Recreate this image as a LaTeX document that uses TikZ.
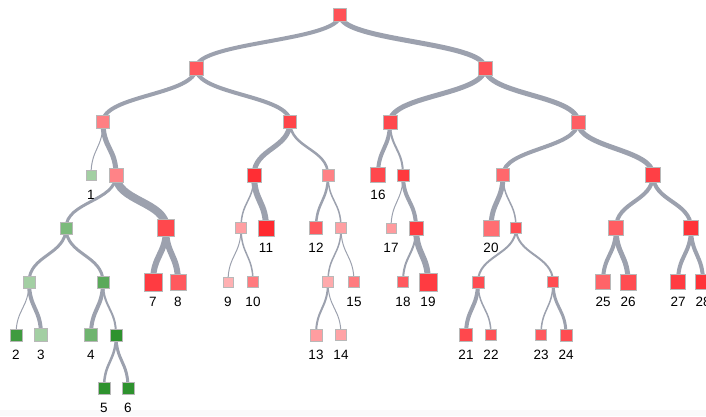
\documentclass[tikz,border=0pt]{standalone}
\usepackage{fontspec}
\setmainfont{Liberation Sans}
\usetikzlibrary{calc}
\definecolor{hot}{HTML}{FF2A30}
\definecolor{leaf}{HTML}{2E922E}
\definecolor{wire}{HTML}{9CA1AE}
\pgfdeclarelayer{background}
\pgfsetlayers{background,main}
\tikzstyle{box}=[draw=black!28,line width=0.6pt,rectangle,inner sep=0pt]
\tikzstyle{tag}=[inner sep=0pt,font=\fontsize{13.5}{16}\selectfont]
\tikzstyle{link}=[draw=wire]

\begin{document}
\begin{tikzpicture}[x=1pt,y=-1pt]
\useasboundingbox (0,0) rectangle (706,416);
\fill[black!2] (0,410) rectangle (706,416);
  % inner nodes
  \foreach \name/\x/\y/\s/\c in {i0/340/15/13/hot!81,
                                 i1/196/68/14/hot!78,
                                 i2/485/68/14/hot!81,
                                 i3/103/122/13/hot!60,
                                 i4/290/122/13/hot!88,
                                 i5/390/122/14/hot!86,
                                 i6/578/122/14/hot!76,
                                 i7/116/175/14/hot!58,
                                 i8/254/175/14/hot!98,
                                 i9/328/175/12/hot!59,
                                 i10/403/175/12/hot!93,
                                 i11/503/175/13/hot!71,
                                 i12/653/175/15/hot!90,
                                 i13/66/228/12/leaf!63,
                                 i14/166/228/17/hot!86,
                                 i15/241/228/11/hot!45,
                                 i16/341/228/11/hot!45,
                                 i17/416/228/14/hot!92,
                                 i18/516/228/11/hot!84,
                                 i19/616/228/15/hot!76,
                                 i20/691/228/15/hot!96,
                                 i21/29/282/12/leaf!44,
                                 i22/103/282/12/leaf!79,
                                 i23/328/282/11/hot!40,
                                 i24/478/282/12/hot!84,
                                 i25/553/282/11/hot!84,
                                 i26/116/335/12/leaf!100}
    \node[box,minimum size=\s pt,fill=\c] (\name) at (\x,\y) {};
  % leaves and their numbers
  \foreach \n/\x/\y/\s/\c in {1/91/175/10/leaf!44,
                              2/16/335/12/leaf!92,
                              3/41/335/13/leaf!44,
                              4/91/335/13/leaf!69,
                              5/104/388/12/leaf!100,
                              6/128/388/12/leaf!100,
                              7/153/282/18/hot!92,
                              8/178/282/16/hot!78,
                              9/228/282/10/hot!37,
                              10/253/282/11/hot!62,
                              11/266/228/16/hot!100,
                              12/316/228/13/hot!78,
                              13/316/335/12/hot!46,
                              14/341/335/11/hot!43,
                              15/354/282/11/hot!62,
                              16/378/175/15/hot!86,
                              17/391/228/10/hot!47,
                              18/403/282/11/hot!78,
                              19/428/282/18/hot!92,
                              20/491/228/16/hot!68,
                              21/466/335/13/hot!86,
                              22/491/335/11/hot!81,
                              23/541/335/11/hot!78,
                              24/566/335/12/hot!84,
                              25/603/282/15/hot!73,
                              26/628/282/16/hot!84,
                              27/678/282/15/hot!92,
                              28/703/282/15/hot!96}
  {
    \node[box,minimum size=\s pt,fill=\c] (l\n) at (\x,\y) {};
    \node[tag] (t\n) at (\x,{\y+20}) {\n};
  }
  % links, under the boxes
  \begin{pgfonlayer}{background}
  \foreach \source/\dest/\w in {i0/i1/4,i0/i2/5,i1/i3/4,i1/i4/4,i2/i5/5,i2/i6/5,
                                i3/l1/1,i3/i7/5,i4/i8/5,i4/i9/2.5,i5/l16/4,i5/i10/2,
                                i6/i11/4,i6/i12/5,i7/i13/3,i7/i14/8,i8/i15/1.5,i8/l11/6,
                                i9/l12/2.5,i9/i16/1.5,i10/l17/1,i10/i17/4,i11/l20/5,i11/i18/1.5,
                                i12/i19/4,i12/i20/4,i13/i21/3,i13/i22/3,i14/l7/6,i14/l8/6,
                                i15/l9/1,i15/l10/1.5,i16/i23/1.5,i16/l15/1,i17/l18/2,i17/l19/6,
                                i18/i24/2,i18/i25/2,i19/l25/4,i19/l26/5,i20/l27/4,i20/l28/4,
                                i21/l2/1,i21/l3/4,i22/l4/4,i22/i26/2,i23/l13/2,i23/l14/1,
                                i24/l21/4,i24/l22/1.5,i25/l23/1.5,i25/l24/3,i26/l5/2.5,i26/l6/3}
      \draw[link,line width=\w pt] (\source.center)
        .. controls ($(\source.center)!0.5!(\source.center|-\dest.center)$)
        and ($(\dest.center)!0.5!(\dest.center|-\source.center)$) .. (\dest.center);
  \end{pgfonlayer}
\end{tikzpicture}
\end{document}
